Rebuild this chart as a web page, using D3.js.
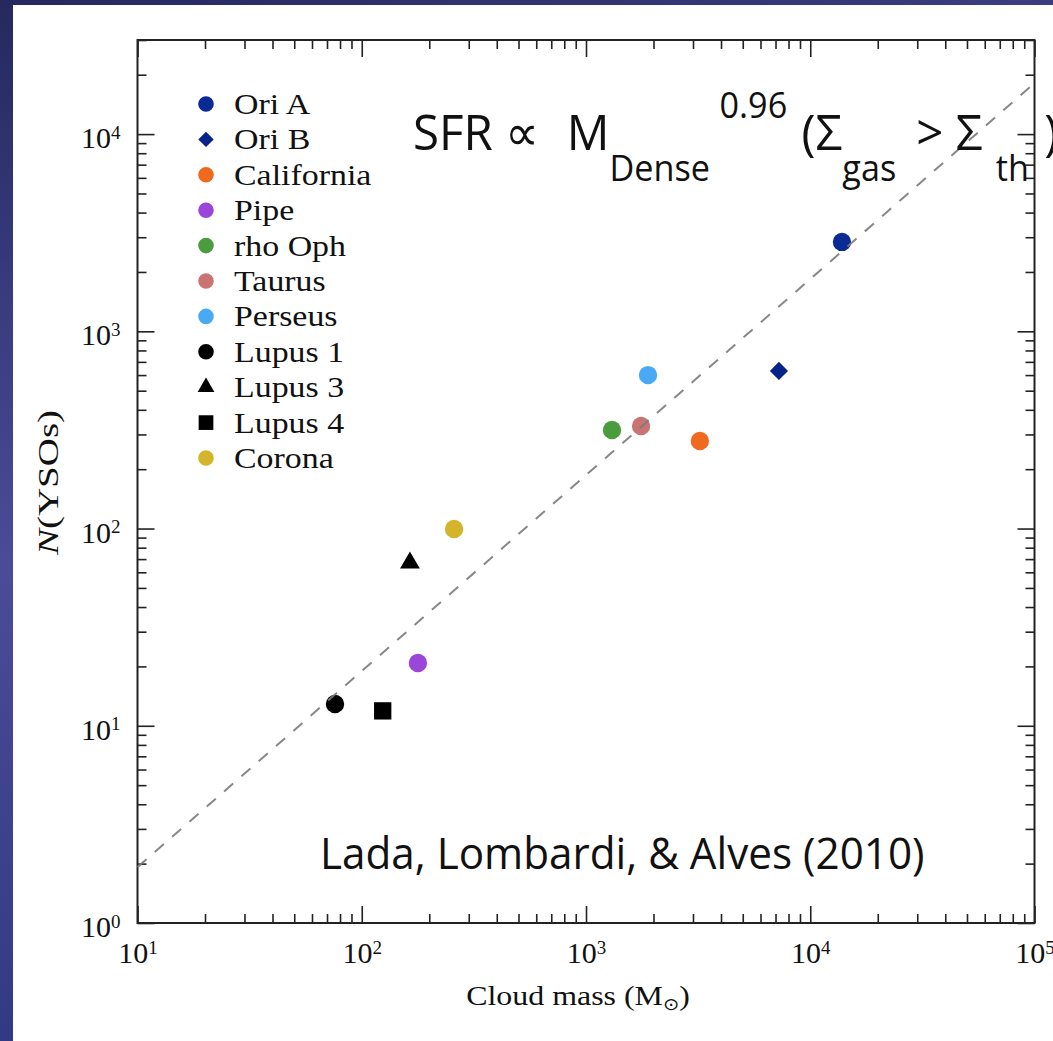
<!DOCTYPE html>
<html>
<head>
<meta charset="utf-8">
<title>N(YSOs) vs cloud mass</title>
<style>
    body { margin: 0; background: #2d3475; }
    svg { display: block; }
    .tick text { font-family: 'Liberation Serif', 'Times New Roman', serif; }
</style>
</head>
<body>
<div id="vis"></div>
<script src="https://d3js.org/d3.v7.min.js"></script>
<script>

// clouds
const clouds = ['Ori A', 'Ori B', 'California', 'Pipe', 'rho Oph', 'Taurus', 'Perseus', 'Lupus 1', 'Lupus 3', 'Lupus 4', 'Corona']
const cloudMass = [13850, 7250, 3220, 178, 1306, 1760, 1890, 76, 164, 124, 258]
const nYSOs = [2840, 630, 278, 20.8, 316, 331, 600, 12.9, 67, 11.9, 99.5]
const markers = ['circle', 'diamond', 'circle', 'circle', 'circle', 'circle', 'circle', 'circle', 'triangle', 'square', 'circle']
const colors = ['#0b2b94', '#07228a', '#ef6a1e', '#9a46d9', '#4b9c3f', '#c97472', '#49a9f4', '#000000', '#000000', '#000000', '#d3b42b']

// dashed relation
const fitMass = [10, 100000]
const fitN = [1.92, 18150]

const xDomain = [10, 100000]
const yDomain = [1, 30000]

const W = 1053, H = 1041
const margin = { left: 137.5, top: 40, right: 18.5, bottom: 118 }
const width = W - margin.left - margin.right
const height = H - margin.top - margin.bottom

const root = d3.select('#vis').append('svg')
    .attr('width', W)
    .attr('height', H)

// background: nebula-ish blue with white slide panel
const defs = root.append('defs')
const grad = defs.append('linearGradient')
    .attr('id', 'bg')
    .attr('x1', 0).attr('y1', 0).attr('x2', 0.3).attr('y2', 1)
grad.append('stop').attr('offset', '0%').attr('stop-color', '#25295f')
grad.append('stop').attr('offset', '50%').attr('stop-color', '#4a4c98')
grad.append('stop').attr('offset', '100%').attr('stop-color', '#2e3680')

root.append('rect').attr('width', W).attr('height', H).attr('fill', 'url(#bg)')
root.append('rect').attr('x', 13).attr('y', 5).attr('width', W - 13).attr('height', H - 5).attr('fill', '#fff')

const svg = root.append('g')
    .attr('transform', `translate(${margin.left},${margin.top})`)

const x = d3.scaleLog().domain(xDomain).range([0, width])
const y = d3.scaleLog().domain(yDomain).range([height, 0])

const isMajor = d => Math.abs(Math.log10(d) - Math.round(Math.log10(d))) < 1e-9
const xMinor = x.ticks().filter(d => !isMajor(d))
const xMajor = x.ticks().filter(isMajor)
const yMinor = y.ticks().filter(d => !isMajor(d))
const yMajor = y.ticks().filter(isMajor)

const labelPow = (sel) => {
    sel.selectAll('.tick text').each(function(d) {
        const t = d3.select(this).text('10')
        t.append('tspan')
            .attr('dy', '-0.5em')
            .attr('font-size', 19)
            .text(Math.round(Math.log10(d)))
    })
}

const styleAxis = g => {
    g.select('.domain').remove()
    g.selectAll('.tick line').attr('stroke', '#222').attr('stroke-width', 1.6)
    g.selectAll('.tick text').attr('fill', '#111').attr('font-size', 30)
}

// bottom
svg.append('g').attr('transform', `translate(0,${height})`)
    .call(d3.axisBottom(x).tickValues(xMinor).tickSizeInner(-9).tickSizeOuter(0).tickFormat(''))
    .call(styleAxis)
svg.append('g').attr('transform', `translate(0,${height})`)
    .call(d3.axisBottom(x).tickValues(xMajor).tickSizeInner(-17).tickSizeOuter(0).tickPadding(19))
    .call(styleAxis)
    .call(labelPow)
// top
svg.append('g')
    .call(d3.axisTop(x).tickValues(xMinor).tickSizeInner(-9).tickSizeOuter(0).tickFormat(''))
    .call(styleAxis)
svg.append('g')
    .call(d3.axisTop(x).tickValues(xMajor).tickSizeInner(-17).tickSizeOuter(0).tickFormat(''))
    .call(styleAxis)
// left
svg.append('g')
    .call(d3.axisLeft(y).tickValues(yMinor).tickSizeInner(-9).tickSizeOuter(0).tickFormat(''))
    .call(styleAxis)
svg.append('g')
    .call(d3.axisLeft(y).tickValues(yMajor).tickSizeInner(-17).tickSizeOuter(0).tickPadding(17))
    .call(styleAxis)
    .call(labelPow)
    .call(g => g.selectAll('.tick text').attr('dy', '0.45em'))
// right
svg.append('g').attr('transform', `translate(${width},0)`)
    .call(d3.axisRight(y).tickValues(yMinor).tickSizeInner(-9).tickSizeOuter(0).tickFormat(''))
    .call(styleAxis)
svg.append('g').attr('transform', `translate(${width},0)`)
    .call(d3.axisRight(y).tickValues(yMajor).tickSizeInner(-17).tickSizeOuter(0).tickFormat(''))
    .call(styleAxis)

// frame
svg.append('rect')
    .attr('width', width)
    .attr('height', height)
    .attr('fill', 'none')
    .attr('stroke', '#222')
    .attr('stroke-width', 2)

// markers
const shape = (type, s) => {
    if (type == 'triangle') return d3.symbol(d3.symbolTriangle, 170 * s)()
    if (type == 'square') return d3.symbol(d3.symbolSquare, 300 * s)()
    if (type == 'diamond') return d3.symbol(d3.symbolSquare, 165 * s)()
    return d3.symbol(d3.symbolCircle, 265 * s)()
}
const rot = type => type == 'diamond' ? ' rotate(45)' : ''

const pts = clouds.map((c, i) => ({ name: c, m: cloudMass[i], n: nYSOs[i], type: markers[i], color: colors[i] }))

svg.append('g')
    .selectAll('path')
    .data(pts)
    .join('path')
    .attr('transform', d => `translate(${x(d.m)},${y(d.n)})` + rot(d.type))
    .attr('d', d => shape(d.type, 1))
    .attr('fill', d => d.color)

// dashed line (sits over the markers)
const fit = fitMass.map((m, i) => ({ m: m, n: fitN[i] }))
svg.append('path')
    .datum(fit)
    .attr('d', d3.line().x(d => x(d.m)).y(d => y(d.n)))
    .attr('fill', 'none')
    .attr('stroke', '#7a7a7a')
    .attr('stroke-opacity', 0.9)
    .attr('stroke-width', 2)
    .attr('stroke-dasharray', '12,11')

// legend
const legend = svg.append('g').attr('transform', 'translate(68.5,64)')
const row = 35.4
legend.selectAll('path')
    .data(pts)
    .join('path')
    .attr('transform', (d, i) => `translate(0,${i * row})` + rot(d.type))
    .attr('d', d => shape(d.type, 0.72))
    .attr('fill', d => d.color)
legend.selectAll('text')
    .data(pts)
    .join('text')
    .attr('transform', (d, i) => `translate(28,${i * row + 10}) scale(1.13,1)`)
    .attr('font-family', "'Liberation Serif', serif")
    .attr('font-size', 30)
    .attr('fill', '#111')
    .text(d => d.name)

// axis titles
svg.append('text')
    .attr('transform', `translate(${width / 2 - 8},${height + 82}) scale(1.14,1)`)
    .attr('text-anchor', 'middle')
    .attr('font-family', "'Liberation Serif', serif")
    .attr('font-size', 28)
    .attr('fill', '#111')
    .text('Cloud mass (M')
    .call(t => t.append('tspan').attr('font-size', 17).attr('dy', 5).attr('font-family', 'DejaVu Sans').text('\u2299'))
    .call(t => t.append('tspan').attr('dy', -5).text(')'))

svg.append('text')
    .attr('transform', `translate(-80,${height / 2 + 1}) rotate(-90) scale(1.3,1)`)
    .attr('text-anchor', 'middle')
    .attr('font-family', "'Liberation Serif', serif")
    .attr('font-size', 30)
    .attr('fill', '#111')
    .call(t => t.append('tspan').attr('font-style', 'italic').text('N'))
    .call(t => t.append('tspan').text('(YSOs)'))

// annotations
const ann = root.append('text')
    .attr('transform', 'translate(413,150) scale(0.95,1)')
    .attr('font-family', "'Open Sans', sans-serif")
    .attr('font-size', 50)
    .attr('fill', '#111')
ann.append('tspan').text('SFR \u221D')
ann.append('tspan').attr('dx', 29).text('M')
ann.append('tspan').attr('font-size', 36).attr('dy', 31).text('Dense')
ann.append('tspan').attr('font-size', 36).attr('dx', 10).attr('dy', -63).text('0.96')
ann.append('tspan').attr('dy', 32).attr('dx', 2).text(' (\u03A3')
ann.append('tspan').attr('font-size', 36).attr('dy', 31).text('gas')
ann.append('tspan').attr('dy', -31).attr('dx', 8).text(' > \u03A3')
ann.append('tspan').attr('font-size', 36).attr('dx', 14).attr('dy', 31).text('th')
ann.append('tspan').attr('dy', -31).attr('dx', 16).text(')')

root.append('text')
    .attr('transform', 'translate(320,869) scale(0.96,1)')
    .attr('font-family', "'Open Sans', sans-serif")
    .attr('font-size', 44)
    .attr('fill', '#111')
    .text('Lada, Lombardi, & Alves (2010)')

</script>
</body>
</html>
